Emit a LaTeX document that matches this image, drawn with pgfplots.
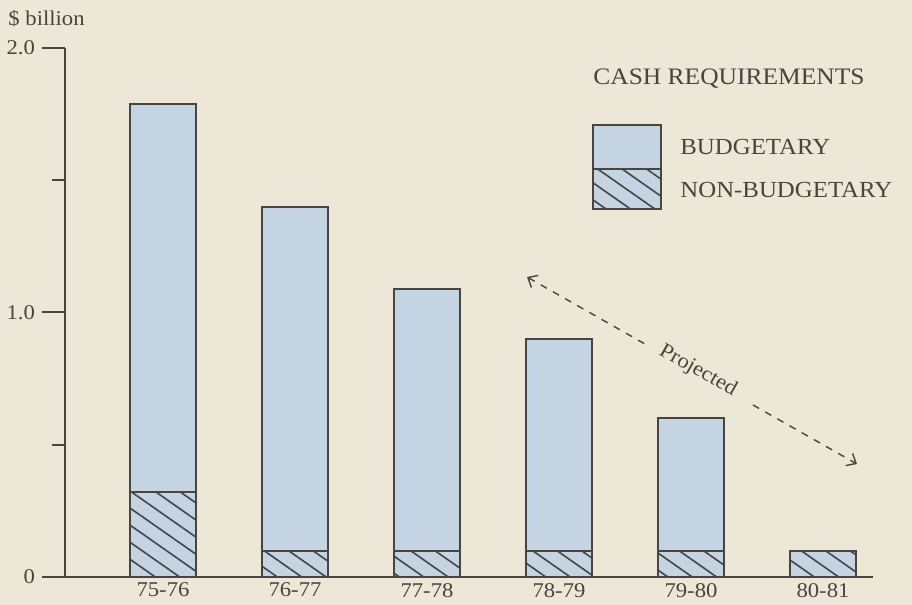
\documentclass[border=0pt]{standalone}
\usepackage{pgfplots}
\pgfplotsset{compat=1.18}
\usetikzlibrary{patterns.meta,arrows.meta}
\usepackage{fontspec}
\setmainfont{Liberation Serif}[FakeStretch=1.08]
\definecolor{bgcol}{RGB}{236,231,214}
\definecolor{barcol}{RGB}{196,212,226}
\definecolor{lncol}{RGB}{72,68,64}
\begin{document}
\begin{tikzpicture}
\fill[bgcol] (-32.5pt,-14pt) rectangle (423.5pt,288.5pt);
\begin{axis}[
  at={(0,0)}, anchor=south west,
  scale only axis, width=404pt, height=264.5pt,
  xmin=-0.74242, xmax=5.37879, ymin=0, ymax=2,
  axis x line*=bottom, axis y line*=left,
  axis line style={lncol, line width=1pt},
  xtick={0,...,5}, xticklabels={75-76,76-77,77-78,78-79,79-80,80-81},
  x tick style={draw=none},
  xticklabel style={yshift=12pt},
  ytick={0,1,2}, yticklabels={0,1.0,2.0},
  minor ytick={0.5,1.5},
  tick align=outside,
  major tick length=11.5pt, minor tick length=6.5pt,
  y tick style={lncol, line width=1pt},
  ticklabel style={font=\fontsize{10.5}{12}\selectfont, text=lncol},
  /pgf/number format/assume math mode=true,
  clip=false,
]
% total cash requirements (budgetary + non-budgetary)
\addplot[ybar, bar width=0.5, bar shift=0pt, fill=barcol, draw=lncol, line width=1pt]
  coordinates {(0,1.79) (1,1.40) (2,1.09) (3,0.90) (4,0.60)};
% non-budgetary part
\addplot[ybar, bar width=0.5, bar shift=0pt, fill=barcol, draw=lncol, line width=1pt,
  postaction={pattern color=lncol, pattern={Lines[angle=-35,distance=7pt,line width=0.8pt]}}]
  coordinates {(0,0.32) (1,0.10) (2,0.10) (3,0.10) (4,0.10) (5,0.10)};

% y unit label
\node[anchor=base west, inner sep=0pt, font=\fontsize{10.5}{12}\selectfont, text=lncol] at (axis cs:-1.1742,2.0832) {\$ billion};

% legend
\node[anchor=base west, inner sep=0pt, font=\fontsize{11.8}{13}\selectfont, text=lncol] at (axis cs:3.2576,1.8601) {CASH REQUIREMENTS};
\fill[barcol] (axis cs:3.2576,1.3913) rectangle (axis cs:3.7727,1.7089);
\path[pattern color=lncol, pattern={Lines[angle=-35,distance=7pt,line width=0.8pt]}] (axis cs:3.2576,1.3913) rectangle (axis cs:3.7727,1.5425);
\draw[lncol, line width=1pt] (axis cs:3.2576,1.3913) rectangle (axis cs:3.7727,1.7089);
\draw[lncol, line width=1pt] (axis cs:3.2576,1.5425) -- (axis cs:3.7727,1.5425);
\node[anchor=base west, inner sep=0pt, font=\fontsize{11.5}{13}\selectfont, text=lncol] at (axis cs:3.9167,1.5955) {BUDGETARY};
\node[anchor=base west, inner sep=0pt, font=\fontsize{11.5}{13}\selectfont, text=lncol] at (axis cs:3.9167,1.4329) {NON-BUDGETARY};

% projected annotation
\draw[lncol, line width=0.7pt, dash pattern=on 3.5pt off 3.5pt, {Straight Barb[length=4pt,width=7pt]}-] (axis cs:2.7576,1.1342) -- (axis cs:3.6515,0.8809);
\draw[lncol, line width=0.7pt, dash pattern=on 3.5pt off 3.5pt, -{Straight Barb[length=4pt,width=7pt]}] (axis cs:4.4697,0.6503) -- (axis cs:5.2576,0.4272);
\node[rotate=-29.5, inner sep=0pt, font=\fontsize{10.5}{12}\selectfont, text=lncol] at (axis cs:4.0530,0.7788) {Projected};
\end{axis}
\pgfresetboundingbox
\path (-32.5pt,-14pt) rectangle (423.5pt,288.5pt);
\end{tikzpicture}
\end{document}
